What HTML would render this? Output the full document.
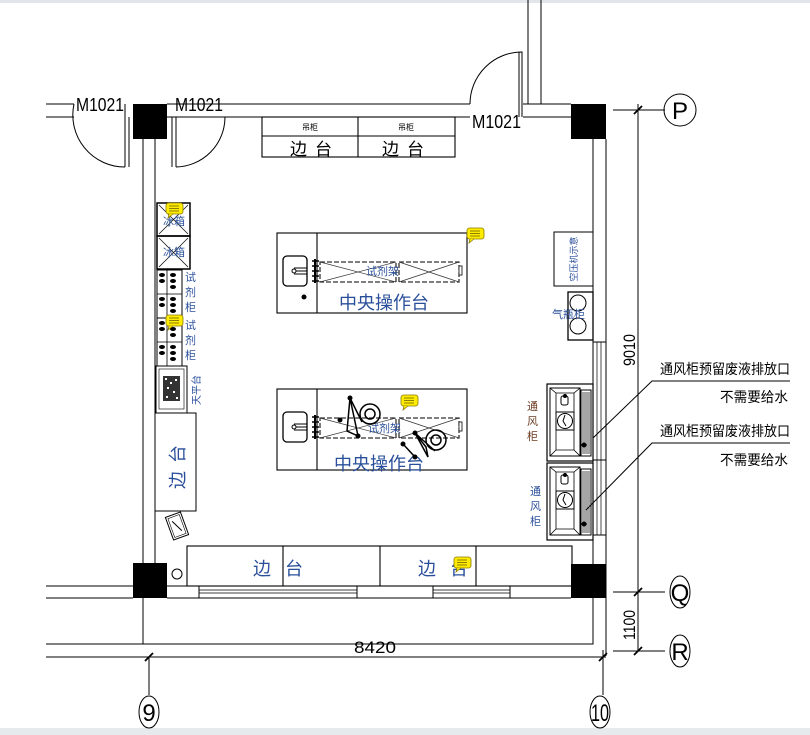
<!DOCTYPE html>
<html><head><meta charset="utf-8"><style>
html,body{margin:0;padding:0;background:#fff;}
svg{display:block;}
text{font-family:"Liberation Sans","Noto Sans CJK SC",sans-serif;}
.b{fill:#2a4f9a;}
</style></head><body>
<svg width="810" height="735" viewBox="0 0 810 735" xmlns="http://www.w3.org/2000/svg">
<defs>
<g id="note"><rect x="-8" y="-7" width="17" height="11" rx="2.5" fill="#ffec00" stroke="#8a7a00" stroke-width="0.8"/><path d="M-5 4 L-6 8 L-1 4" fill="#ffec00" stroke="#8a7a00" stroke-width="0.8"/><path d="M-5 -4H5M-5 -1.5H5M-5 1H5" stroke="#6b5d00" stroke-width="0.8"/></g>
<g id="hood">
<rect x="0" y="0" width="46" height="77" fill="#fff" stroke="#000" stroke-width="1.2"/>
<rect x="3" y="4" width="30" height="68" fill="none" stroke="#000"/>
<path d="M3 4L9 9H27L33 4M3 72L9 66H27L33 72M9 9V66M27 9V66" fill="none" stroke="#000" stroke-width="0.8"/>
<rect x="14" y="12" width="7" height="9" rx="2" fill="none" stroke="#000"/>
<circle cx="18" cy="12" r="2" fill="#000"/>
<rect x="9" y="28" width="18" height="18" fill="none" stroke="#000"/>
<circle cx="18" cy="37" r="7.5" fill="none" stroke="#000"/>
<path d="M18 31L16 37L19 42" fill="none" stroke="#000"/>
<rect x="34" y="6" width="10" height="66" fill="none" stroke="#000"/>
<path d="M36 8V70M38 8V70M40 8V70M42 8V70" stroke="#000" stroke-width="0.7"/>
<circle cx="37" cy="61" r="2.5" fill="#000"/>
</g>
<g id="cab">
<rect x="0" y="0" width="25" height="48" fill="none" stroke="#000"/>
<path d="M10 0V48M0 24H25" stroke="#000" stroke-width="0.8"/>
<g fill="#000"><ellipse cx="5" cy="5" rx="3" ry="2"/><ellipse cx="5" cy="11" rx="3" ry="2"/><ellipse cx="5" cy="29" rx="3" ry="2"/><ellipse cx="5" cy="35" rx="3" ry="2"/>
<ellipse cx="16" cy="5" rx="3" ry="2"/><ellipse cx="16" cy="11" rx="3" ry="2"/><ellipse cx="16" cy="17" rx="3" ry="2"/><ellipse cx="16" cy="29" rx="3" ry="2"/><ellipse cx="16" cy="35" rx="3" ry="2"/><ellipse cx="16" cy="41" rx="3" ry="2"/></g>
</g>
<g id="sink">
<rect x="6" y="23" width="24" height="30" rx="4" fill="none" stroke="#000" stroke-width="1.3"/>
<path d="M17 38H30M17 35H30M17 41H30" stroke="#000"/>
<circle cx="17" cy="38" r="2" fill="#fff" stroke="#000"/>
<path d="M35 28H42M35 33H42M35 38H42M35 43H42M35 48H42" stroke="#000" stroke-width="1.5"/>
<path d="M38 26V50" stroke="#000" stroke-width="2"/>
</g>
<g id="rackA">
<rect x="0" y="0" width="76" height="20" fill="none" stroke="#333" stroke-dasharray="5 2" stroke-width="1.3"/>
<path d="M0 0L76 20M0 20L76 0" stroke="#333" stroke-width="0.7"/>
</g>
<g id="rackB">
<rect x="0" y="0" width="60" height="20" fill="none" stroke="#333" stroke-dasharray="5 2" stroke-width="1.3"/>
<path d="M0 0L60 20M0 20L60 0" stroke="#333" stroke-width="0.7"/>
</g>
</defs>

<rect x="0" y="0" width="810" height="3" fill="#e2e6ea"/>
<rect x="0" y="728" width="810" height="7" fill="#e6eaec"/>

<g stroke="#000" stroke-width="1" fill="none">
<path d="M46 104H74M46 117H74"/>
<path d="M125 104V167M129 117V167"/>
<path d="M167 104H470M167 117H470M523 104H571M523 117H571"/>
<path d="M172 117V167M176 117V167"/>
<path d="M74 104A52 52 0 0 0 125 167"/>
<path d="M176 167A50 50 0 0 0 225 117"/>
<path d="M470 104A52 52 0 0 1 522 52V117M519 52V117"/>
<path d="M528 0V104M541 0V104"/>
<path d="M143 139V644M155 139V564"/>
<path d="M593 139V564M606 139V656"/>
<path d="M593 342V535M597 342V535M601 342V535" stroke-width="0.7"/>
<path d="M593 342H606M593 535H606M593 460H606"/>
<path d="M46 586H133M46 598H133M167 586H571M167 598H571"/>
<path d="M199 586V598M357 586V598M433 586V598M510 586V598"/>
<path d="M199 590H357M199 593H357M433 590H510M433 593H510" stroke-width="0.7"/>
<path d="M46 644H593V598"/>
<path d="M46 657H606"/>
</g>
<rect x="133" y="104" width="34" height="35" fill="#000"/>
<rect x="571" y="104" width="35" height="35" fill="#000"/>
<rect x="133" y="563" width="34" height="35" fill="#000"/>
<rect x="571" y="564" width="35" height="34" fill="#000"/>

<g font-size="18" fill="#000"><text x="76" y="111" textLength="48" lengthAdjust="spacingAndGlyphs">M1021</text>
<text x="175" y="111" textLength="48" lengthAdjust="spacingAndGlyphs">M1021</text>
<text x="472" y="128" textLength="49" lengthAdjust="spacingAndGlyphs">M1021</text></g>

<g stroke="#000" fill="none" stroke-width="1.1"><rect x="262" y="117" width="193" height="40"/><path d="M262 136H455M358 117V157"/></g>
<g fill="#000" font-size="8"><text x="302" y="130">吊柜</text><text x="398" y="130">吊柜</text></g>
<g fill="#000" font-size="17"><text x="290" y="155" letter-spacing="8">边台</text><text x="382" y="155" letter-spacing="8">边台</text></g>

<g stroke="#000" fill="none"><rect x="157" y="203" width="33" height="33" stroke-width="1.5"/><rect x="157" y="236" width="33" height="33" stroke-width="1.5"/>
<path d="M159 205L188 234M188 205L159 234M159 238L188 267M188 238L159 267" stroke-width="0.7"/></g>
<g class="b" font-size="11"><text x="163" y="225">冰箱</text><text x="163" y="256">冰箱</text></g>
<use href="#cab" x="157" y="270"/><use href="#cab" x="157" y="318"/>
<g class="b" font-size="11"><text x="185" y="281">试</text><text x="185" y="296">剂</text><text x="185" y="311">柜</text>
<text x="185" y="329">试</text><text x="185" y="344">剂</text><text x="185" y="359">柜</text></g>
<rect x="156" y="366" width="31" height="47" fill="none" stroke="#000"/>
<rect x="159" y="369" width="25" height="40" fill="none" stroke="#000" stroke-width="0.6"/>
<rect x="163" y="376" width="17" height="25" fill="#333"/>
<g fill="#fff"><rect x="165" y="378" width="2" height="2"/><rect x="170" y="382" width="2" height="2"/><rect x="175" y="379" width="2" height="2"/><rect x="167" y="387" width="2" height="2"/><rect x="173" y="391" width="2" height="2"/><rect x="166" y="396" width="2" height="2"/><rect x="176" y="397" width="2" height="2"/></g>
<text class="b" font-size="10" transform="translate(200,390) rotate(-90)" text-anchor="middle">天平台</text>
<rect x="155" y="413" width="41" height="98" fill="none" stroke="#000"/>
<text class="b" font-size="18" transform="translate(184,463) rotate(-90)" text-anchor="middle" letter-spacing="8">边台</text>
<g transform="translate(177,526) rotate(-20)"><rect x="-8" y="-12" width="16" height="24" fill="none" stroke="#000"/><rect x="-6" y="-10" width="12" height="20" fill="none" stroke="#000" stroke-width="0.6"/><path d="M-3 -6L3 6" stroke="#000"/></g>
<circle cx="177" cy="574" r="5" fill="none" stroke="#000"/>

<g stroke="#000" fill="none" stroke-width="1.1"><rect x="277" y="233" width="190" height="80"/><path d="M317 233V313"/>
<rect x="277" y="389" width="190" height="81"/><path d="M317 389V470"/></g>
<use href="#sink" x="277" y="233"/><use href="#sink" x="277" y="389"/>
<use href="#rackA" x="320" y="262"/><use href="#rackB" x="399" y="262"/>
<use href="#rackA" x="320" y="418"/><use href="#rackB" x="399" y="418"/>
<rect x="459" y="266" width="3" height="9" fill="#fff" stroke="#333"/><rect x="459" y="422" width="3" height="9" fill="#fff" stroke="#333"/>
<circle cx="304" cy="297" r="2.5" fill="#000"/>
<g class="b" font-size="11"><text x="366" y="275">试剂架</text><text x="368" y="432">试剂架</text></g>
<g class="b" font-size="18"><text x="339" y="309">中央操作台</text><text x="334" y="470">中央操作台</text></g>
<g stroke="#000" stroke-width="1.5" fill="none">
<path d="M350 398L347 431L358 436ZM350 398L362 422"/>
<circle cx="370" cy="414" r="10"/><circle cx="370" cy="414" r="5"/>
<path d="M415 433L426 447L428 457ZM415 433L435 451"/>
<circle cx="436" cy="440" r="10"/><circle cx="436" cy="440" r="5"/>
<path d="M403 444L415 457"/>
</g>
<g fill="#000"><circle cx="350" cy="398" r="2.5"/><circle cx="358" cy="436" r="2.5"/><circle cx="340" cy="420" r="2.5"/><circle cx="415" cy="433" r="2.5"/><circle cx="403" cy="444" r="2.5"/><circle cx="415" cy="457" r="2.5"/></g>

<g stroke="#000" fill="none" stroke-width="1.1"><rect x="187" y="546" width="385" height="40"/><path d="M283 546V586M380 546V586M476 546V586"/></g>
<g class="b" font-size="18"><text x="253" y="575">边</text><text x="285" y="575">台</text><text x="418" y="575">边</text><text x="450" y="575">台</text></g>

<rect x="554" y="232" width="39" height="54" fill="none" stroke="#000"/>
<text class="b" font-size="9" transform="translate(577,259) rotate(-90)" text-anchor="middle">空压机示意</text>
<rect x="568" y="292" width="25" height="48" fill="none" stroke="#000" stroke-width="1.3"/>
<circle cx="578" cy="303" r="8" fill="none" stroke="#000"/><circle cx="578" cy="326" r="8" fill="none" stroke="#000"/>
<text class="b" font-size="11" x="552" y="318">气瓶柜</text>
<use href="#hood" x="547" y="384"/><use href="#hood" x="547" y="463"/>
<g font-size="11"><text x="527" y="410" fill="#6a3a20">通</text><text x="527" y="425" fill="#6a3a20">风</text><text x="527" y="440" fill="#6a3a20">柜</text>
<text x="530" y="495" class="b">通</text><text x="530" y="510" class="b">风</text><text x="530" y="525" class="b">柜</text></g>

<g stroke="#000" stroke-width="1" fill="none">
<path d="M593 438L652 381H790M586 510L652 443H790"/>
</g>
<g font-size="14" fill="#000"><text x="660" y="374" textLength="130" lengthAdjust="spacingAndGlyphs">通风柜预留废液排放口</text>
<text x="720" y="402" textLength="68" lengthAdjust="spacingAndGlyphs">不需要给水</text>
<text x="660" y="436" textLength="130" lengthAdjust="spacingAndGlyphs">通风柜预留废液排放口</text>
<text x="720" y="465" textLength="68" lengthAdjust="spacingAndGlyphs">不需要给水</text></g>

<g stroke="#000" fill="none" stroke-width="1">
<path d="M638 104V651M613 110H665M613 592H665M613 651H665"/>
<path d="M634 114L642 106M634 596L642 588M634 655L642 647M145 661L153 653M599 661L607 653" stroke-width="1.8"/>
<path d="M149 657V695M603 650V695"/>
<circle cx="680" cy="110" r="16"/><ellipse cx="680" cy="592" rx="10" ry="16"/><ellipse cx="680" cy="651" rx="10" ry="16"/>
<ellipse cx="149" cy="712" rx="10" ry="16"/><ellipse cx="600" cy="712" rx="10" ry="16"/>
</g>
<g fill="#000" font-family="Liberation Serif" font-size="24" text-anchor="middle"><text x="680" y="119">P</text><text x="680" y="601">Q</text><text x="680" y="660">R</text><text x="149" y="721">9</text><text x="600" y="721" textLength="18" lengthAdjust="spacingAndGlyphs">10</text></g>
<g fill="#000" font-size="17"><text x="354" y="653" textLength="42" lengthAdjust="spacingAndGlyphs">8420</text>
<text transform="translate(635,366) rotate(-90)" textLength="32" lengthAdjust="spacingAndGlyphs">9010</text>
<text transform="translate(635,640) rotate(-90)" textLength="30" lengthAdjust="spacingAndGlyphs">1100</text></g>

<use href="#note" x="174" y="210"/><use href="#note" x="475" y="235"/><use href="#note" x="174" y="322"/><use href="#note" x="409" y="402"/><use href="#note" x="462" y="564"/>
</svg>
</body></html>
